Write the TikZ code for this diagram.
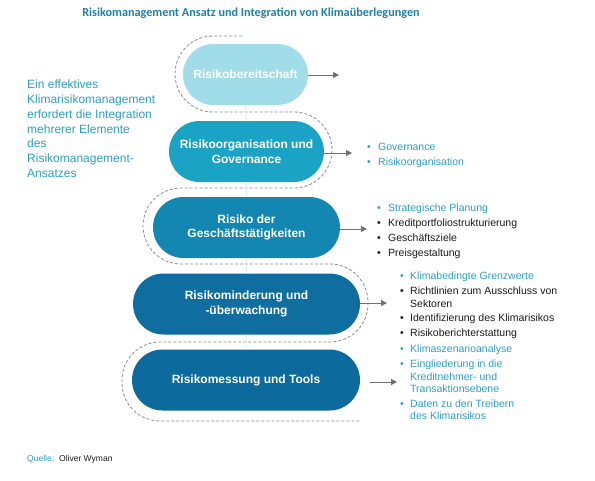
\documentclass[tikz,border=0pt]{standalone}
\usepackage{fontspec}
\setmainfont{Liberation Sans}
\newfontfamily\titlefont{Carlito}
\usetikzlibrary{arrows.meta}
\definecolor{cyanTxt}{HTML}{2A9FC8}
\definecolor{titleBlue}{HTML}{1E7FB0}
\definecolor{pillA}{HTML}{A0DDE9}
\definecolor{pillB}{HTML}{1BA3C6}
\definecolor{pillC}{HTML}{1386B2}
\definecolor{pillD}{HTML}{0F6E9F}
\definecolor{pillE}{HTML}{0D6A9C}
\definecolor{dashGray}{HTML}{8A8A8A}
\definecolor{arrGray}{HTML}{707070}
\definecolor{bodyTxt}{HTML}{1A1A1A}
\tikzset{
  pill/.style={rounded corners=30.5pt, minimum height=61pt, inner sep=0pt, text=white,
    font=\fontsize{12}{14.5}\selectfont\bfseries, align=center},
  arr/.style={draw=arrGray, line width=1pt, -{Triangle[length=6pt,width=6pt]}},
  bul/.style={anchor=base west, inner sep=0pt, font=\fontsize{10.5}{13}\selectfont},
  bc/.style={bul, text=cyanTxt},
  bk/.style={bul, text=bodyTxt},
  snake/.style={draw=dashGray, line width=0.8pt, dash pattern=on 3pt off 2pt, rounded corners=38pt},
  faint/.style={draw=cyanTxt!18, line width=1pt}
}
\begin{document}
\begin{tikzpicture}[x=1pt,y=-1pt]
\useasboundingbox (0,0) rectangle (595,480);
\fill[white] (0,0) rectangle (595,480);
% title
\node[font=\titlefont\fontsize{12.2}{15}\selectfont\bfseries, text=titleBlue] (title) at (251,13) {Risikomanagement Ansatz und Integration von Klimaüberlegungen};
% left text
\node[anchor=north west, align=left, inner sep=0pt, text=cyanTxt, font=\fontsize{12}{14.7}\selectfont] (intro) at (27,80)
 {Ein effektives\\Klimarisikomanagement\\erfordert die Integration\\mehrerer Elemente\\des\\Risikomanagement-\\Ansatzes};
% serpentine dashed outline
\draw[snake] (242,36) -- (175,36) -- (175,112) -- (332,112) -- (332,188) -- (143,188) -- (143,264) -- (368,264) -- (368,342) -- (122,342) -- (122,421) -- (360,421);
% pills
\node[pill, fill=pillA, minimum width=125pt] (p1) at (245.5,74.5) {Risikobereitschaft};
\node[pill, fill=pillB, minimum width=155pt] (p2) at (246.5,151.5) {Risikoorganisation und\\Governance};
\node[pill, fill=pillC, minimum width=187pt] (p3) at (246.5,227.5) {Risiko der\\Geschäftstätigkeiten};
\node[pill, fill=pillD, minimum width=227pt] (p4) at (246.5,304) {Risikominderung und\\-überwachung};
\node[pill, fill=pillE, minimum width=228pt] (p5) at (246,380) {Risikomessung und Tools};
% faint links
\draw[faint] (p1.south) -- (p2.north);
\draw[faint] (p2.south) -- (p3.north);
\draw[faint] (p3.south) -- (p4.north);
\draw[faint] (p4.south) -- (p5.north);
% arrows
\coordinate (e1) at (339,75);
\coordinate (e2) at (352,153);
\coordinate (e3) at (367,229);
\coordinate (e4) at (387,303);
\coordinate (s5) at (370,382);
\coordinate (e5) at (397,382);
\draw[arr] (p1.east |- e1) -- (e1);
\draw[arr] (p2.east |- e2) -- (e2);
\draw[arr] (p3.east |- e3) -- (e3);
\draw[arr] (p4.east |- e4) -- (e4);
\draw[arr] (s5) -- (e5);
% list A
\node[bc] (ga) at (367,150) {•};  \node[bc] (gt) at (378,150) {Governance};
\node[bc] (ra) at (367,165) {•};  \node[bc] (rt) at (378,165) {Risikoorganisation};
% list B
\node[bc] (b1) at (377,211) {•}; \node[bc] (b1t) at (388,211) {Strategische Planung};
\node[bk] (b2) at (377,226) {•}; \node[bk] (b2t) at (388,226) {Kreditportfoliostrukturierung};
\node[bk] (b3) at (377,241) {•}; \node[bk] (b3t) at (388,241) {Geschäftsziele};
\node[bk] (b4) at (377,256) {•}; \node[bk] (b4t) at (388,256) {Preisgestaltung};
% list C
\node[bc] (c1) at (400,279) {•}; \node[bc] (c1t) at (410,279) {Klimabedingte Grenzwerte};
\node[bk] (c2) at (400,294) {•}; \node[bk] (c2t) at (410,294) {Richtlinien zum Ausschluss von};
\node[bk] (c2u) at (410,307) {Sektoren};
\node[bk] (c3) at (400,321) {•}; \node[bk] (c3t) at (410,321) {Identifizierung des Klimarisikos};
\node[bk] (c4) at (400,336) {•}; \node[bk] (c4t) at (410,336) {Risikoberichterstattung};
\node[bc] (c5) at (400,352) {•}; \node[bc] (c5t) at (410,352) {Klimaszenarioanalyse};
\node[bc] (c6) at (400,367) {•}; \node[bc] (c6t) at (410,367) {Eingliederung in die};
\node[bc] (c6u) at (410,380) {Kreditnehmer- und};
\node[bc] (c6v) at (410,392) {Transaktionsebene};
\node[bc] (c7) at (400,407) {•}; \node[bc] (c7t) at (410,407) {Daten zu den Treibern};
\node[bc] (c7u) at (410,419) {des Klimarisikos};
% source
\node[anchor=base west, inner sep=0pt, font=\fontsize{8.5}{10}\selectfont, text=cyanTxt] (q) at (27,461) {Quelle:};
\node[anchor=base west, inner sep=0pt, font=\fontsize{8.5}{10}\selectfont, text=bodyTxt] (ow) at (59,461) {Oliver Wyman};
\end{tikzpicture}
\end{document}
